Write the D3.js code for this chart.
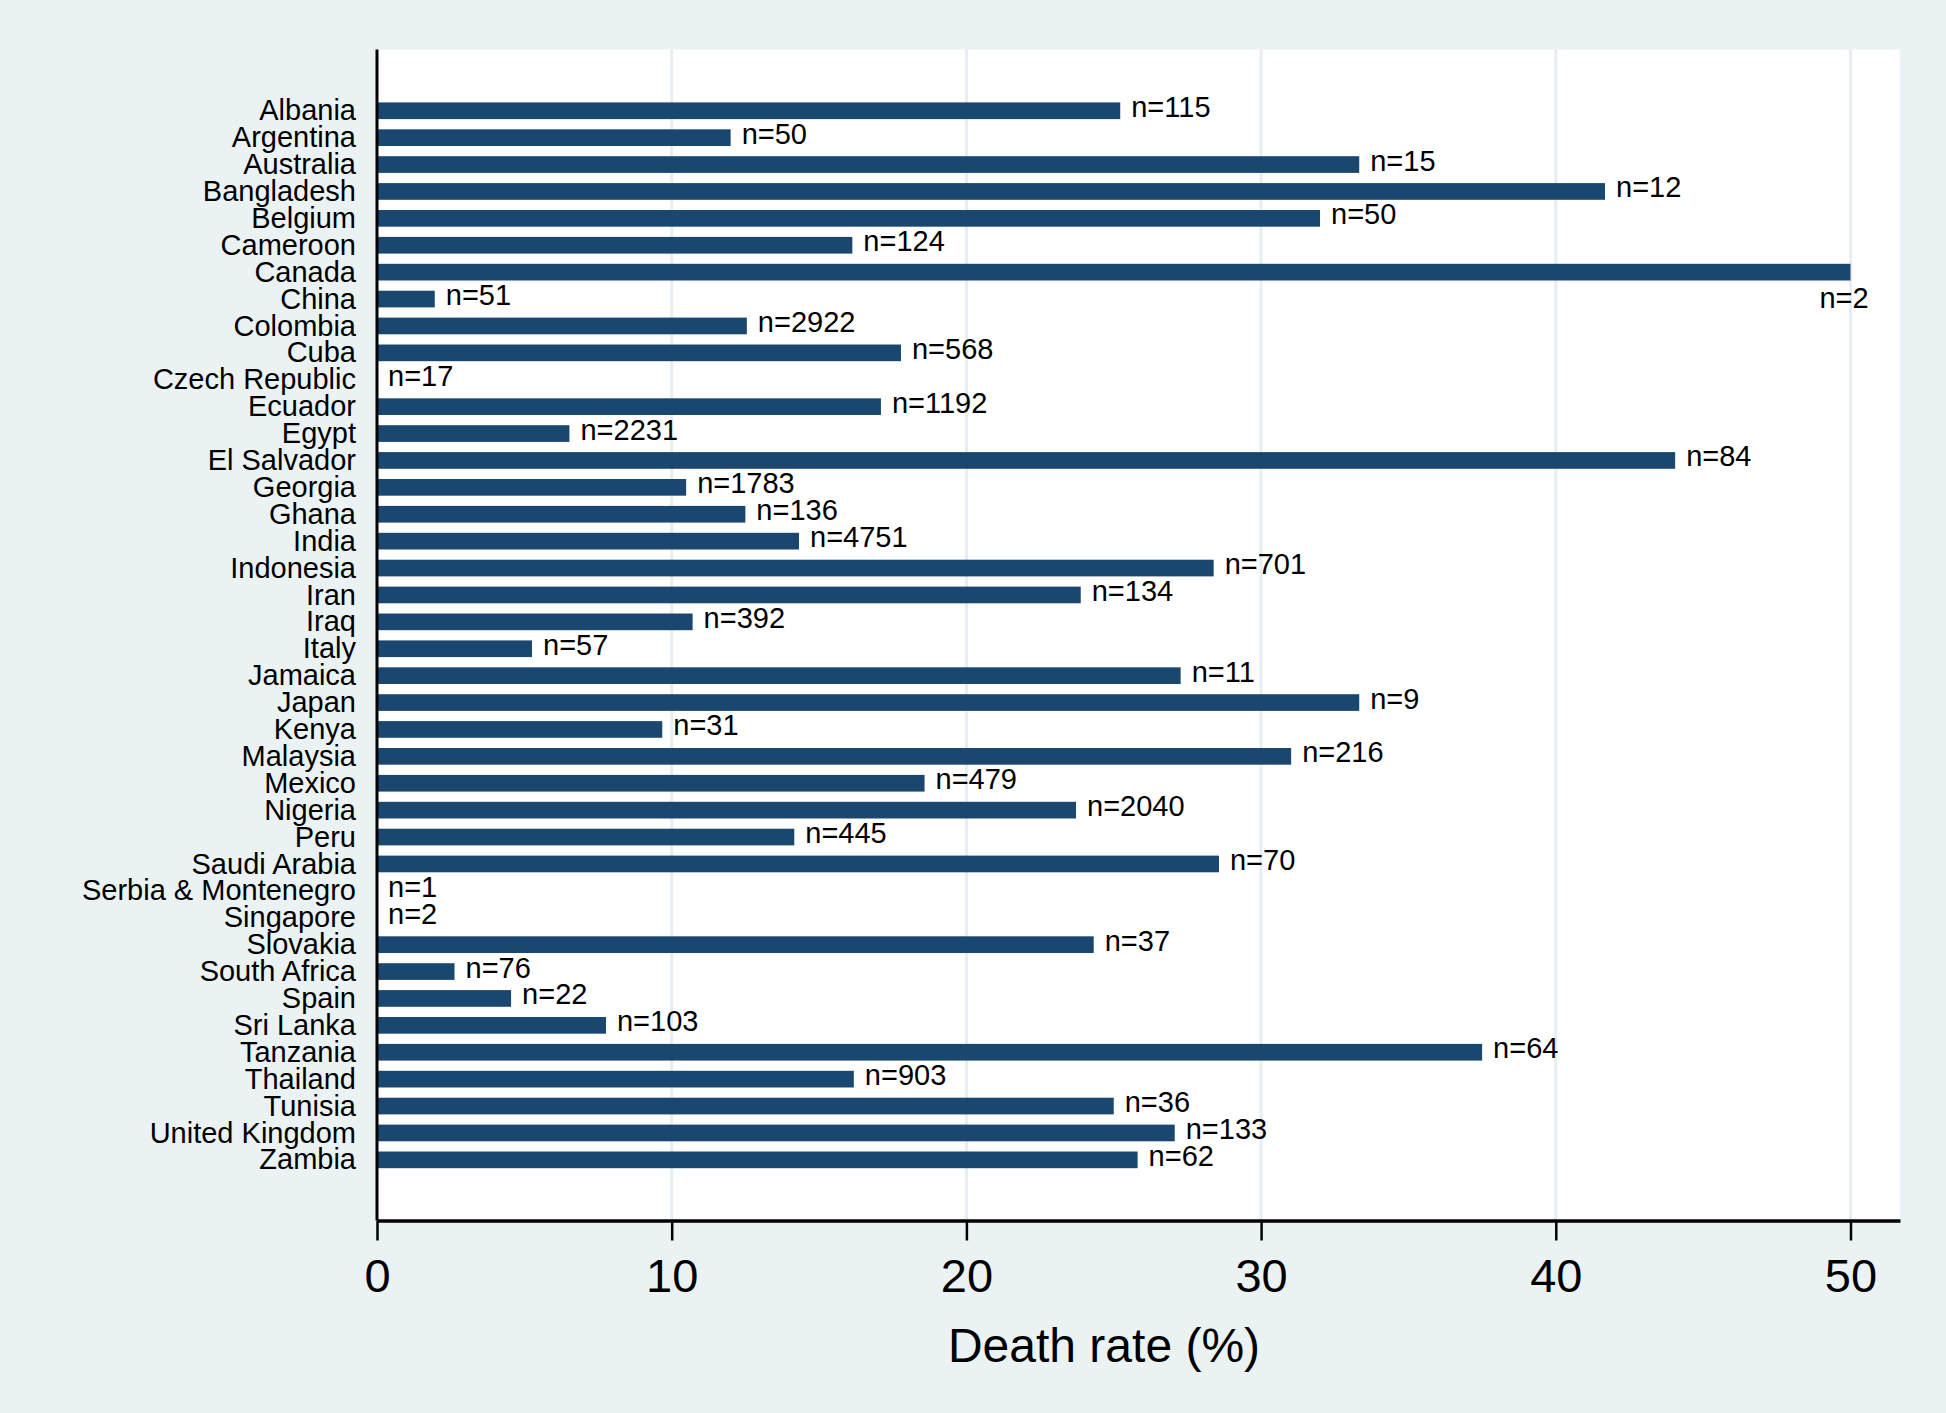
<!DOCTYPE html>
<html>
<head>
<meta charset="utf-8">
<script src="https://cdn.jsdelivr.net/npm/d3@7/dist/d3.min.js"></script>
<style>
  html, body { margin: 0; padding: 0; background: #eaf2f3; }
  svg { display: block; }
  text { font-family: "Liberation Sans", Arial, Helvetica, sans-serif; fill: #000; }
</style>
</head>
<body>
<svg id="chart" width="1946" height="1413"></svg>
<script>
const countries = ["Albania","Argentina","Australia","Bangladesh","Belgium","Cameroon","Canada","China","Colombia","Cuba","Czech Republic","Ecuador","Egypt","El Salvador","Georgia","Ghana","India","Indonesia","Iran","Iraq","Italy","Jamaica","Japan","Kenya","Malaysia","Mexico","Nigeria","Peru","Saudi Arabia","Serbia & Montenegro","Singapore","Slovakia","South Africa","Spain","Sri Lanka","Tanzania","Thailand","Tunisia","United Kingdom","Zambia"];
const deathRate = [25.22,12.00,33.33,41.67,32.00,16.13,50.00,1.96,12.55,17.78,0,17.10,6.53,44.05,10.49,12.50,14.32,28.39,23.88,10.71,5.26,27.27,33.33,9.68,31.02,18.58,23.72,14.16,28.57,0,0,24.32,2.63,4.55,7.77,37.50,16.18,25.00,27.07,25.81];
const sampleSize = [115,50,15,12,50,124,2,51,2922,568,17,1192,2231,84,1783,136,4751,701,134,392,57,11,9,31,216,479,2040,445,70,1,2,37,76,22,103,64,903,36,133,62];
const xTicks = [0,10,20,30,40,50];
const xTitle = "Death rate (%)";

const svg = d3.select("#chart");
const W = 1946, H = 1413;
const plot = { left: 377, right: 1900, top: 49.5, bottom: 1220.5 };

svg.append("rect").attr("width", W).attr("height", H).attr("fill", "#eaf2f3");
svg.append("rect")
  .attr("x", plot.left).attr("y", plot.top)
  .attr("width", plot.right - plot.left).attr("height", plot.bottom - plot.top)
  .attr("fill", "#ffffff");

const x = d3.scaleLinear().domain([0, 51.68]).range([plot.left, plot.right]);
const y = d3.scaleBand().domain(countries).range([97.3, 1173.3]).paddingInner(0.38).paddingOuter(0.19);

// gridlines
svg.append("g").selectAll("line")
  .data(xTicks.filter(t => t > 0))
  .join("line")
  .attr("x1", d => x(d)).attr("x2", d => x(d))
  .attr("y1", plot.top).attr("y2", plot.bottom)
  .attr("stroke", "#e6eef1").attr("stroke-width", 3);

// bars
svg.append("g").selectAll("rect")
  .data(countries)
  .join("rect")
  .attr("x", x(0))
  .attr("y", d => y(d))
  .attr("width", (d, i) => x(deathRate[i]) - x(0))
  .attr("height", y.bandwidth())
  .attr("fill", "#1a476f");

// n labels
const labelSize = 29;
svg.append("g").selectAll("text")
  .data(countries)
  .join("text")
  .attr("font-size", labelSize)
  .each(function(d, i) {
    const t = d3.select(this);
    const label = "n=" + sampleSize[i];
    t.text(label);
    const w = this.getComputedTextLength();
    const xe = x(deathRate[i]);
    const cy = y(d) + y.bandwidth() / 2;
    if (xe + 10 + w > plot.right) {
      t.attr("x", xe - 6.5).attr("y", cy + 36).attr("text-anchor", "middle");
    } else {
      t.attr("x", xe + 11).attr("y", cy + 6).attr("text-anchor", "start");
    }
  });

// y axis (category labels)
const yAxis = svg.append("g")
  .attr("transform", `translate(${plot.left},0)`)
  .call(d3.axisLeft(y).tickSize(0).tickPadding(21));
yAxis.select(".domain").remove();
yAxis.selectAll("text")
  .attr("font-size", labelSize)
  .attr("font-family", "'Liberation Sans', Arial, Helvetica, sans-serif")
  .attr("fill", "#000")
  .attr("dy", "0.33em");

svg.append("line")
  .attr("x1", plot.left).attr("x2", plot.left)
  .attr("y1", plot.top).attr("y2", plot.bottom)
  .attr("stroke", "#000").attr("stroke-width", 3);

// x axis
const xAxis = svg.append("g")
  .attr("transform", `translate(0,${plot.bottom})`)
  .call(d3.axisBottom(x).tickValues(xTicks).tickFormat(d3.format("d")).tickSize(20).tickSizeOuter(0).tickPadding(18));
xAxis.select(".domain").attr("stroke", "#000").attr("stroke-width", 3.5);
xAxis.selectAll(".tick line").attr("stroke", "#000").attr("stroke-width", 2.5);
xAxis.selectAll("text")
  .attr("font-size", 47)
  .attr("font-family", "'Liberation Sans', Arial, Helvetica, sans-serif")
  .attr("fill", "#000");

svg.append("text")
  .attr("x", 1104).attr("y", 1362)
  .attr("text-anchor", "middle")
  .attr("font-size", 48)
  .text(xTitle);
</script>
</body>
</html>
